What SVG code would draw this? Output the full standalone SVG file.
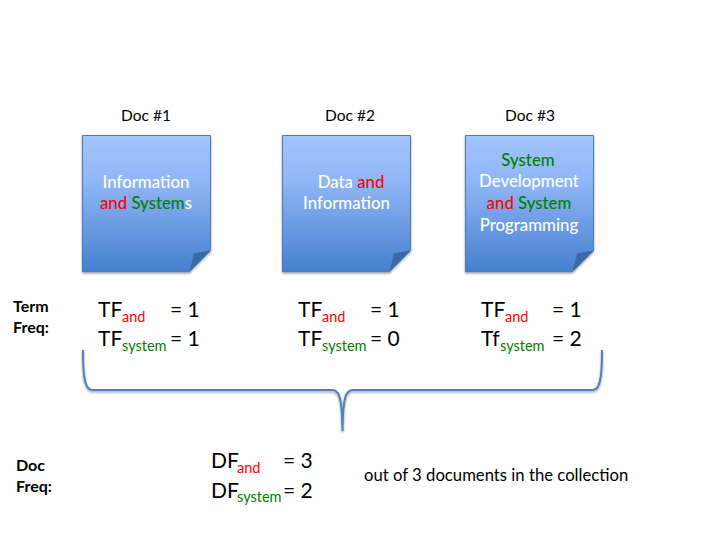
<svg xmlns="http://www.w3.org/2000/svg" width="720" height="540" viewBox="0 0 720 540">
<style>
text{font-family:Lato,"Liberation Sans",sans-serif;fill:#000}
.h{font-size:15.5px;text-anchor:middle}
.d{font-size:16.8px;text-anchor:middle;fill:#fff;font-weight:500}
.b{font-size:16px;font-weight:700}
.m{font-size:21px}
.s{font-size:14.5px}
.r{fill:#f00}
.g{fill:#008000}
.page{fill:url(#pg);stroke:#4a7ebb;stroke-width:1}
.fold{fill:#3a6aa5}
.brace{fill:none;stroke:#4f81bd;stroke-width:2}
</style>
<defs>
<linearGradient id="pg" x1="0" y1="0" x2="0" y2="1">
<stop offset="0" stop-color="#a3c4ff"/><stop offset="0.35" stop-color="#8fb5f5"/><stop offset="1" stop-color="#4580cf"/>
</linearGradient>
<filter id="sh" x="-10%" y="-10%" width="120%" height="120%"><feDropShadow dx="0" dy="1.5" stdDeviation="1.2" flood-color="#000" flood-opacity="0.4"/></filter>
</defs>
<g id="doc1">
<text class="h" x="146" y="121">Doc #1</text>
<path class="page" filter="url(#sh)" d="M82.500 135.500H210.500V250.500L189.500 271.500H82.500Z"/>
<path class="fold" d="M210.500 250.500L194 253.500L189.500 271.500Z"/>
<text class="d" x="146" y="188">Information</text>
<text class="d" x="146" y="209"><tspan class="r">and</tspan> <tspan class="g">System</tspan>s</text>
</g>
<g id="doc2">
<text class="h" x="350" y="121">Doc #2</text>
<path class="page" filter="url(#sh)" d="M282.500 135.500H410.500V250.500L389.500 271.500H282.500Z"/>
<path class="fold" d="M410.500 250.500L394 253.500L389.500 271.500Z"/>
<text class="d" x="351" y="188">Data <tspan class="r">and</tspan></text>
<text class="d" x="346.500" y="209">Information</text>
</g>
<g id="doc3">
<text class="h" x="530" y="121">Doc #3</text>
<path class="page" filter="url(#sh)" d="M465.500 135.500H593.500V250.500L572.500 271.500H465.500Z"/>
<path class="fold" d="M593.500 250.500L577 253.500L572.500 271.500Z"/>
<text class="d" x="528" y="166" style="fill:#008000">System</text>
<text class="d" x="529" y="187">Development</text>
<text class="d" x="529" y="209"><tspan class="r">and</tspan> <tspan class="g">System</tspan></text>
<text class="d" x="529" y="231">Programming</text>
</g>
<g id="term-freq">
<text class="b" x="13" y="312">Term</text>
<text class="b" x="13" y="333">Freq:</text>
</g>
<g id="tf1">
<text class="m" x="98" y="317">TF</text><text class="s r" x="122" y="322">and</text><text class="m" x="170" y="317">= 1</text>
<text class="m" x="98" y="346">TF</text><text class="s g" x="122" y="351">system</text><text class="m" x="170" y="346">= 1</text>
</g>
<g id="tf2">
<text class="m" x="298" y="317">TF</text><text class="s r" x="322" y="322">and</text><text class="m" x="370" y="317">= 1</text>
<text class="m" x="298" y="346">TF</text><text class="s g" x="322" y="351">system</text><text class="m" x="370" y="346">= 0</text>
</g>
<g id="tf3">
<text class="m" x="481" y="317">TF</text><text class="s r" x="505" y="322">and</text><text class="m" x="552" y="317">= 1</text>
<text class="m" x="481" y="346">Tf</text><text class="s g" x="500" y="351">system</text><text class="m" x="552" y="346">= 2</text>
</g>
<g id="connectors">
<path class="brace" filter="url(#sh)" d="M83 350C83 372 84 390 92 390H332C339 390 342 396 342.500 431C343 396 346 390 353 390H593C601 390 602 372 602 350"/>
</g>
<g id="doc-freq">
<text class="b" x="16" y="471">Doc</text>
<text class="b" x="16" y="492">Freq:</text>
</g>
<g id="df">
<text class="m" x="211" y="468">DF</text><text class="s r" x="237" y="473">and</text><text class="m" x="283" y="468">= 3</text>
<text class="m" x="211" y="498">DF</text><text class="s g" x="237" y="502">system</text><text class="m" x="283" y="498">= 2</text>
</g>
<g id="note"><text x="364" y="481" style="font-size:16.700px">out of 3 documents in the collection</text></g>
</svg>
